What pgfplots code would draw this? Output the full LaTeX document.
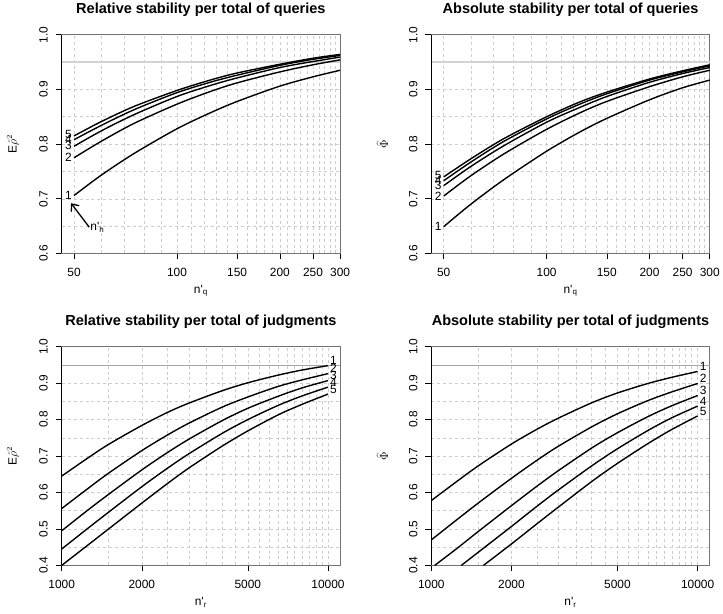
\documentclass[border=0pt]{standalone}
\usepackage{pgfplots}
\pgfplotsset{compat=1.18}
\usepackage{fontspec}
\setmainfont{Liberation Sans}
\usetikzlibrary{arrows.meta}

\pgfplotsset{
  every axis/.append style={
    scale only axis, width=280pt, height=220pt, anchor=south west,
    clip=false,
    axis line style={black!55, line width=0.7pt},
    tick align=outside, xtick pos=left, ytick pos=left,
    major tick length=6pt, minor tick length=0pt,
    tick style={black, line width=0.6pt},
    grid=both,
    major grid style={gray!40, dash pattern=on 3pt off 3pt, line width=0.5pt},
    minor grid style={gray!40, dash pattern=on 3pt off 3pt, line width=0.5pt},
    yticklabel style={/pgf/number format/assume math mode=true,
      /pgf/number format/fixed, /pgf/number format/fixed zerofill,
      /pgf/number format/precision=1, rotate=90, anchor=south, inner ysep=7.7pt},
    xticklabel style={anchor=north, inner ysep=8.5pt},
    tick label style={font=\fontsize{12}{12}\selectfont},
    title style={font=\bfseries\fontsize{14.6}{16}\selectfont, at={(0.5,1)}, anchor=base, yshift=15pt},
    label style={font=\fontsize{12}{12}\selectfont},
  },
  every axis y label/.style={at={(axis description cs:-0.175,0.5)}, rotate=90, anchor=center},
  every axis x label/.style={at={(axis description cs:0.5,-0.17)}, anchor=center},
}
\tikzset{
  rcurve/.style={black, line width=1.4pt, smooth},
  clab/.style={font=\fontsize{12}{12}\selectfont, inner sep=2pt},
}

\begin{document}
\begin{tikzpicture}
\fill[white] (0pt,0pt) rectangle (723pt,614pt);

% ---------- relative stability, queries ----------
\begin{axis}[xmode=log, at={(62pt,362pt)}, xmin=46, xmax=300, ymin=0.6, ymax=1.0,
  xtick={50,100,150,200,250,300}, xticklabels={50,100,150,200,250,300},
  minor xtick={60,70,80,90,110,120,130,140,160,170,180,190,210,220,230,240,260,270,280,290},
  ytick={0.6,0.7,0.8,0.9,1.0}, minor ytick={0.65,0.75,0.85,0.95},
  xlabel={n\textquotesingle\textsubscript{q}},
  title={Relative stability per total of queries},
  ylabel={$\mathrm{E}\hat{\rho}^{2}$}]
\addplot[gray!35, line width=1.5pt] coordinates {(46,0.95) (300,0.95)};
\addplot[rcurve] table {
x y
50 0.706
60 0.743
75 0.783
100 0.828
125 0.857
150 0.878
200 0.906
250 0.923
300 0.935
};
\addplot[rcurve] table {
x y
50 0.775
60 0.805
75 0.838
100 0.873
125 0.896
150 0.912
200 0.932
250 0.945
300 0.954
};
\addplot[rcurve] table {
x y
50 0.796
60 0.824
75 0.854
100 0.887
125 0.907
150 0.921
200 0.940
250 0.951
300 0.959
};
\addplot[rcurve] table {
x y
50 0.808
60 0.834
75 0.863
100 0.894
125 0.913
150 0.926
200 0.944
250 0.955
300 0.962
};
\addplot[rcurve] table {
x y
50 0.815
60 0.841
75 0.869
100 0.898
125 0.917
150 0.930
200 0.946
250 0.957
300 0.964
};
\node[clab, anchor=east] at (axis cs:50,0.706) {1};
\node[clab, anchor=east] at (axis cs:50,0.775) {2};
\node[clab, anchor=east] at (axis cs:50,0.798) {3};
\node[clab, anchor=east] at (axis cs:50,0.808) {4};
\node[clab, anchor=east] at (axis cs:50,0.817) {5};
\draw[black, line width=1.3pt, -{Straight Barb[length=6pt,width=10pt]}]
  (axis cs:55.4,0.648) -- (axis cs:49,0.692);
\node[anchor=west, inner sep=1pt, font=\fontsize{12}{12}\selectfont]
  at (axis cs:55.4,0.648) {n\textquotesingle\textsubscript{h}};
\draw[black, line width=0.8pt] (rel axis cs:0,0) -- (rel axis cs:0,1);
\end{axis}

% ---------- absolute stability, queries ----------
\begin{axis}[xmode=log, at={(433.7pt,362pt)}, xmin=46, xmax=300, ymin=0.6, ymax=1.0,
  xtick={50,100,150,200,250,300}, xticklabels={50,100,150,200,250,300},
  minor xtick={60,70,80,90,110,120,130,140,160,170,180,190,210,220,230,240,260,270,280,290},
  ytick={0.6,0.7,0.8,0.9,1.0}, minor ytick={0.65,0.75,0.85,0.95},
  xlabel={n\textquotesingle\textsubscript{q}},
  title={Absolute stability per total of queries},
  ylabel={\fontsize{13}{13}\selectfont$\widehat{\Phi}$}]
\addplot[gray!35, line width=1.5pt] coordinates {(46,0.95) (300,0.95)};
\addplot[rcurve] table {
x y
50 0.649
60 0.690
75 0.735
100 0.787
125 0.822
150 0.847
200 0.881
250 0.903
300 0.917
};
\addplot[rcurve] table {
x y
50 0.705
60 0.742
75 0.782
100 0.827
125 0.857
150 0.878
200 0.905
250 0.923
300 0.935
};
\addplot[rcurve] table {
x y
50 0.724
60 0.759
75 0.797
100 0.840
125 0.867
150 0.887
200 0.913
250 0.929
300 0.940
};
\addplot[rcurve] table {
x y
50 0.733
60 0.767
75 0.805
100 0.846
125 0.873
150 0.892
200 0.917
250 0.932
300 0.943
};
\addplot[rcurve] table {
x y
50 0.740
60 0.773
75 0.810
100 0.850
125 0.877
150 0.895
200 0.919
250 0.934
300 0.945
};
\node[clab, anchor=east] at (axis cs:50,0.649) {1};
\node[clab, anchor=east] at (axis cs:50,0.705) {2};
\node[clab, anchor=east] at (axis cs:50,0.724) {3};
\node[clab, anchor=east] at (axis cs:50,0.733) {4};
\node[clab, anchor=east] at (axis cs:50,0.742) {5};
\draw[black, line width=0.8pt] (rel axis cs:0,0) -- (rel axis cs:0,1);
\end{axis}

% ---------- relative stability, judgments ----------
\begin{axis}[xmode=log, at={(62pt,48.3pt)}, xmin=1000, xmax=11100, ymin=0.4, ymax=1.0,
  xtick={1000,2000,5000,10000}, xticklabels={1000,2000,5000,10000},
  minor xtick={1500,2500,3000,3500,4000,4500,5500,6000,6500,7000,7500,8000,8500,9000,9500},
  ytick={0.4,0.5,0.6,0.7,0.8,0.9,1.0}, minor ytick={0.45,0.55,0.65,0.75,0.85,0.95},
  xlabel={n\textquotesingle\textsubscript{r}},
  title={Relative stability per total of judgments},
  ylabel={$\mathrm{E}\hat{\rho}^{2}$}]
\addplot[gray!70, line width=0.6pt] coordinates {(1000,0.95) (11100,0.95)};
\addplot[rcurve] table {
x y
1000 0.645
1250 0.694
1500 0.732
2000 0.784
2500 0.820
3000 0.845
4000 0.879
5000 0.901
6500 0.922
8000 0.936
10000 0.948
};
\addplot[rcurve] table {
x y
1000 0.556
1250 0.610
1500 0.653
2000 0.715
2500 0.758
3000 0.790
4000 0.834
5000 0.862
6500 0.891
8000 0.909
10000 0.926
};
\addplot[rcurve] table {
x y
1000 0.495
1250 0.551
1500 0.595
2000 0.662
2500 0.710
3000 0.746
4000 0.797
5000 0.831
6500 0.864
8000 0.887
10000 0.907
};
\addplot[rcurve] table {
x y
1000 0.445
1250 0.501
1500 0.546
2000 0.616
2500 0.667
3000 0.706
4000 0.762
5000 0.800
6500 0.839
8000 0.865
10000 0.889
};
\addplot[rcurve] table {
x y
1000 0.400
1250 0.455
1500 0.500
2000 0.571
2500 0.625
3000 0.667
4000 0.727
5000 0.769
6500 0.813
8000 0.842
10000 0.870
};
\node[clab, anchor=west, yshift=5pt] at (axis cs:10000,0.948) {1};
\node[clab, anchor=west, yshift=5pt] at (axis cs:10000,0.926) {2};
\node[clab, anchor=west, yshift=5pt] at (axis cs:10000,0.907) {3};
\node[clab, anchor=west, yshift=5pt] at (axis cs:10000,0.889) {4};
\node[clab, anchor=west, yshift=5pt] at (axis cs:10000,0.870) {5};
\draw[black, line width=0.8pt] (rel axis cs:0,0) -- (rel axis cs:0,1);
\end{axis}

% ---------- absolute stability, judgments ----------
\begin{axis}[xmode=log, at={(433.7pt,48.3pt)}, xmin=1000, xmax=11100, ymin=0.4, ymax=1.0,
  xtick={1000,2000,5000,10000}, xticklabels={1000,2000,5000,10000},
  minor xtick={1500,2500,3000,3500,4000,4500,5500,6000,6500,7000,7500,8000,8500,9000,9500},
  ytick={0.4,0.5,0.6,0.7,0.8,0.9,1.0}, minor ytick={0.45,0.55,0.65,0.75,0.85,0.95},
  xlabel={n\textquotesingle\textsubscript{r}},
  title={Absolute stability per total of judgments},
  ylabel={\fontsize{13}{13}\selectfont$\widehat{\Phi}$}]
\addplot[gray!70, line width=0.6pt] coordinates {(1000,0.95) (11100,0.95)};
\addplot[rcurve] table {
x y
1000 0.578
1250 0.631
1500 0.673
2000 0.733
2500 0.774
3000 0.804
4000 0.846
5000 0.873
6500 0.899
8000 0.916
10000 0.932
};
\addplot[rcurve] table {
x y
1000 0.470
1250 0.526
1500 0.571
2000 0.639
2500 0.689
3000 0.727
4000 0.780
5000 0.816
6500 0.852
8000 0.876
10000 0.899
};
\addplot[rcurve] table {
x y
1029 0.400
1250 0.447
1500 0.493
2000 0.564
2500 0.618
3000 0.660
4000 0.722
5000 0.764
6500 0.808
8000 0.838
10000 0.866
};
\addplot[rcurve] table {
x y
1295 0.400
1500 0.436
2000 0.507
2500 0.563
3000 0.607
4000 0.673
5000 0.720
6500 0.770
8000 0.805
10000 0.837
};
\addplot[rcurve] table {
x y
1569 0.400
2000 0.459
2500 0.515
3000 0.560
4000 0.630
5000 0.680
6500 0.734
8000 0.773
10000 0.810
};
\node[clab, anchor=west, yshift=5pt] at (axis cs:10000,0.932) {1};
\node[clab, anchor=west, yshift=5pt] at (axis cs:10000,0.899) {2};
\node[clab, anchor=west, yshift=5pt] at (axis cs:10000,0.866) {3};
\node[clab, anchor=west, yshift=5pt] at (axis cs:10000,0.837) {4};
\node[clab, anchor=west, yshift=5pt] at (axis cs:10000,0.810) {5};
\draw[black, line width=0.8pt] (rel axis cs:0,0) -- (rel axis cs:0,1);
\end{axis}
\end{tikzpicture}
\end{document}
